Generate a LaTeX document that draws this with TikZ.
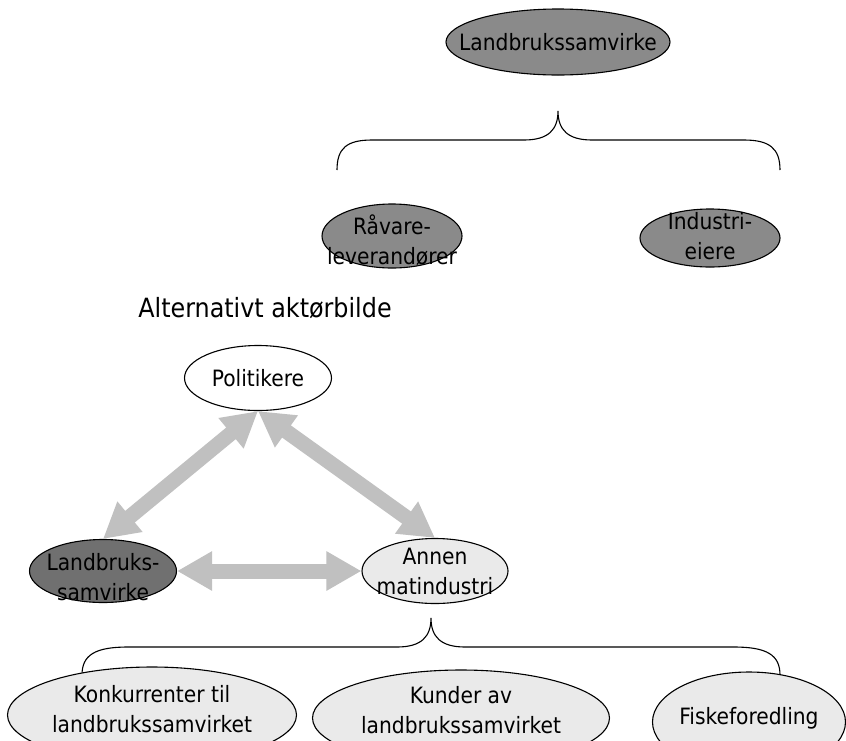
\documentclass[tikz,border=0pt]{standalone}
\usepackage{fontspec}
\setmainfont{DejaVu Sans Condensed}
\usetikzlibrary{shapes.geometric, arrows.meta, positioning, calc}
\usepackage{xcolor}
\definecolor{mork}{HTML}{8A8A8A}
\definecolor{morkere}{HTML}{707070}
\definecolor{lys}{HTML}{EAEAEA}
\definecolor{pil}{HTML}{C0C0C0}

\begin{document}
\begin{tikzpicture}[
    x=1pt, y=-1pt,
    aktor/.style = {ellipse, draw=black, line width=1.1pt, inner sep=0pt},
    tekst/.style = {align=center, inner sep=0pt, font=\fontsize{22.5}{30}\selectfont},
    relasjon/.style = {pil, line width=15pt, {Triangle[length=35pt 0 0, width=37pt 0 0]}-{Triangle[length=35pt 0 0, width=37pt 0 0]}},
    klamme/.style = {draw=black, line width=1.1pt}
]
    \clip (0,0) rectangle (846,740);
    \fill [white] (0,0) rectangle (846,740);

    % 1. Opprinnelig aktørbilde
    \node [aktor, fill=mork, minimum width=224pt, minimum height=66pt, label={[tekst]center:Landbrukssamvirke}] (samvirke) at (558,42) {};
    \node [aktor, fill=mork, minimum width=140pt, minimum height=64pt, label={[tekst, yshift=-4pt]center:{Råvare-\\leverandører}}] (raavare) at (392,236) {};
    \node [aktor, fill=mork, minimum width=140pt, minimum height=58pt, label={[tekst, yshift=2pt]center:{Industri-\\eiere}}] (industri) at (710,238) {};

    % klamme under samvirke
    \coordinate (spiss1) at (558,111);
    \draw [klamme] (337,170) .. controls (337,148) and (347,140) .. (372,140) -- (524,140)
        .. controls (548,140) and (558,130) .. (spiss1)
        .. controls (558,130) and (568,140) .. (592,140) -- (744,140)
        .. controls (769,140) and (780,148) .. (780,170);

    % 2. Alternativt aktørbilde
    \node [font=\fontsize{26.5}{31}\selectfont] (tittel) at (265,308) {Alternativt aktørbilde};

    \node [aktor, fill=white, minimum width=147pt, minimum height=65pt, label={[tekst]center:Politikere}] (politikere) at (258,378) {};
    \node [aktor, fill=morkere, minimum width=147pt, minimum height=63pt, label={[tekst, yshift=-6pt]center:{Landbruks-\\samvirke}}] (landbruk) at (103,571) {};
    \node [aktor, fill=lys, minimum width=146pt, minimum height=65pt, label={[tekst]center:{Annen\\matindustri}}] (annen) at (435,571) {};

    % relasjoner (grå piler)
    \draw [relasjon] (landbruk.north) -- (politikere.south);
    \draw [relasjon] (annen.north) -- (politikere.south);
    \draw [relasjon] (landbruk.east) -- (annen.west);

    % klamme under annen matindustri
    \coordinate (spiss2) at (431,618);
    \draw [klamme] (82,675) .. controls (82,655) and (95,647) .. (128,647) -- (397,647)
        .. controls (421,647) and (431,637) .. (spiss2)
        .. controls (431,637) and (441,647) .. (465,647) -- (734,647)
        .. controls (767,647) and (780,655) .. (780,675);

    % 3. Undergrupper
    \node [aktor, fill=lys, minimum width=289pt, minimum height=96pt, label={[tekst, yshift=6pt]center:{Konkurrenter til\\landbrukssamvirket}}] (konkurrenter) at (152,715) {};
    \node [aktor, fill=lys, minimum width=297pt, minimum height=96pt, label={[tekst, yshift=8pt]center:{Kunder av\\landbrukssamvirket}}] (kunder) at (461,718) {};
    \node [aktor, fill=lys, minimum width=193pt, minimum height=100pt, label={[tekst, yshift=4pt]center:Fiskeforedling}] (fisk) at (749,722) {};
\end{tikzpicture}
\end{document}
